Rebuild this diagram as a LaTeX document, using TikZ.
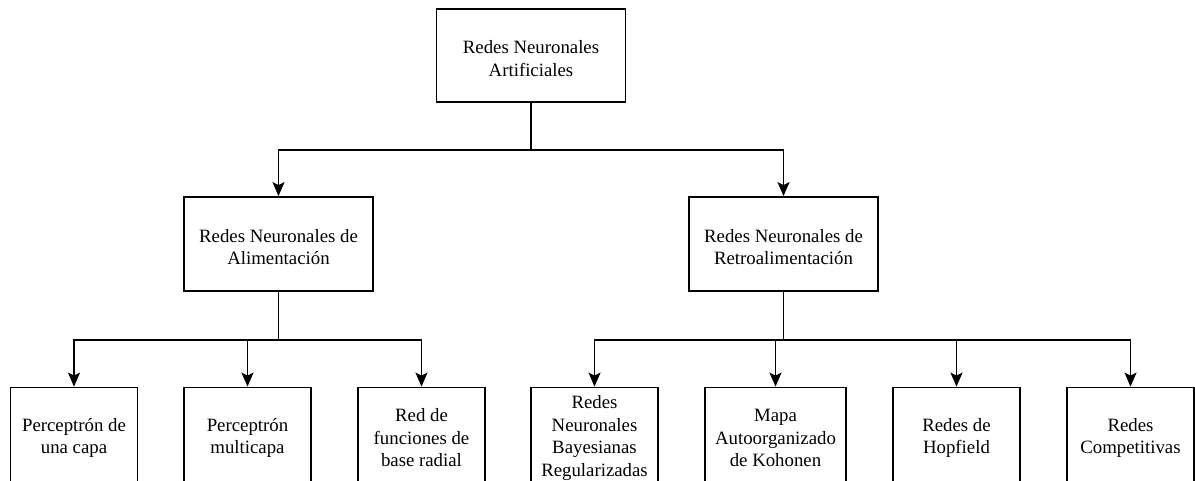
\documentclass[tikz,border=0pt]{standalone}
\usepackage{fontspec}
\setmainfont{Liberation Serif}
\usetikzlibrary{arrows.meta}
\begin{document}
\begin{tikzpicture}[x=1pt,y=-1pt,
  boxtext/.style={inner sep=0pt, align=center, yshift=-3pt,
    font=\fontsize{18.8}{22.5}\selectfont},
  box/.style={draw, line width=1.8pt, fill=white, inner sep=0pt,
    label={[boxtext]center:#1}},
  topbox/.style={box={#1}, minimum width=189pt, minimum height=93pt},
  midbox/.style={box={#1}, minimum width=189pt, minimum height=94pt},
  leafbox/.style={box={#1}, minimum width=127pt, minimum height=95pt},
  link/.style={line width=1.8pt},
  arrowlink/.style={link, -{Stealth[length=14pt,width=12pt,inset=3pt]}}]
\useasboundingbox (0,0) rectangle (1195,480);
\fill[white] (0,0) rectangle (1195,480);
\clip (0,0) rectangle (1195,480);

% root
\node[topbox={Redes Neuronales\\Artificiales}] (rna) at (531,55.5) {};

% second level
\node[midbox={Redes Neuronales de\\Alimentación}] (alim) at (278.5,244) {};
\node[midbox={Redes Neuronales de\\Retroalimentación}] (retro) at (783.5,244) {};

% leaves
\node[leafbox={Perceptrón de\\una capa}] (pc1) at (74,435) {};
\node[leafbox={Perceptrón\\multicapa}] (pcm) at (247.5,435) {};
\node[leafbox={Red de\\funciones de\\base radial}] (rbf) at (421.5,435) {};
\node[leafbox={Redes\\Neuronales\\Bayesianas\\Regularizadas}] (bay) at (594.5,435) {};
\node[leafbox={Mapa\\Autoorganizado\\de Kohonen}, minimum width=141pt] (som) at (775.5,435) {};
\node[leafbox={Redes de\\Hopfield}] (hop) at (956.5,435) {};
\node[leafbox={Redes\\Competitivas}] (comp) at (1130.5,435) {};

% junction points
\coordinate (j0) at (531,150);
\coordinate (j1) at (278.5,340);
\coordinate (j2) at (783.5,340);

% connectors
\draw[link] (rna.south) -- (j0);
\draw[arrowlink] (j0) -| (alim.north);
\draw[arrowlink] (j0) -| (retro.north);

\draw[link] (alim.south) -- (j1);
\draw[arrowlink] (j1) -| (pc1.north);
\draw[arrowlink] (j1) -| (pcm.north);
\draw[arrowlink] (j1) -| (rbf.north);

\draw[link] (retro.south) -- (j2);
\draw[arrowlink] (j2) -| (bay.north);
\draw[arrowlink] (j2) -| (som.north);
\draw[arrowlink] (j2) -| (hop.north);
\draw[arrowlink] (j2) -| (comp.north);
\end{tikzpicture}
\end{document}
